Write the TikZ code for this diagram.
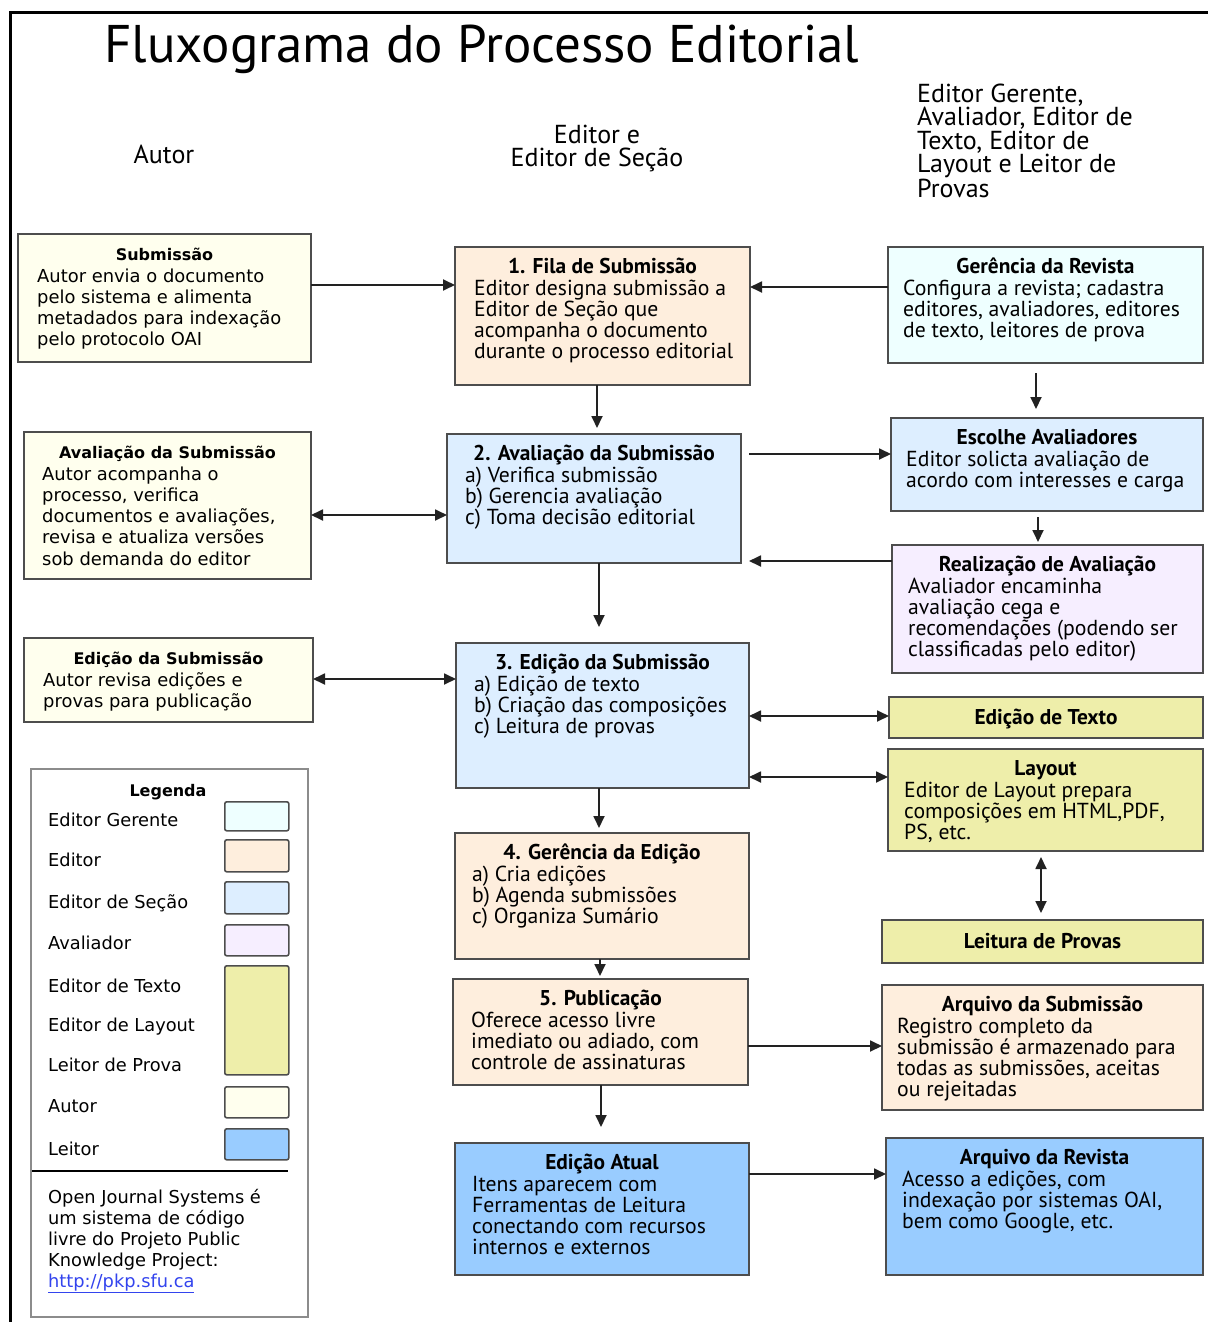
\documentclass[tikz,border=0pt]{standalone}
\usepackage{fontspec}
\usetikzlibrary{arrows.meta}
\newfontfamily\pts{PT Sans}
\newfontfamily\djv{DejaVu Sans}
\definecolor{cAut}{HTML}{FFFFEE}
\definecolor{cEdi}{HTML}{FEEEDD}
\definecolor{cSec}{HTML}{DDEEFF}
\definecolor{cGer}{HTML}{EEFFFF}
\definecolor{cAva}{HTML}{F6EEFF}
\definecolor{cTxt}{HTML}{EEEEAA}
\definecolor{cLei}{HTML}{99CCFF}
\definecolor{edge}{HTML}{4D4D4D}
\definecolor{wire}{HTML}{222222}
\definecolor{linkc}{HTML}{3344EE}

\tikzset{
  box/.style={draw=edge, line width=1.6, anchor=north west, inner sep=0, outer sep=0},
  tP/.style={anchor=north, inner sep=0, font=\pts\bfseries\fontsize{21.4}{21.3}\selectfont},
  bP/.style={anchor=north west, inner sep=0, align=left, font=\pts\fontsize{21.7}{21.3}\selectfont},
  tA/.style={anchor=north, inner sep=0, font=\djv\bfseries\fontsize{16}{21.3}\selectfont},
  bA/.style={anchor=north west, inner sep=0, align=left, font=\djv\fontsize{17.9}{21.3}\selectfont},
  arr/.style={draw=wire, line width=1.8, -{Triangle[length=12pt,width=11pt]}},
  darr/.style={draw=wire, line width=1.8, {Triangle[length=12pt,width=11pt]}-{Triangle[length=12pt,width=11pt]}},
  swatch/.style={draw=edge, line width=1.6, rounded corners=2pt, anchor=north west, inner sep=0, minimum width=64},
  leglabel/.style={anchor=base west, inner sep=0, font=\djv\fontsize{17.8}{21.3}\selectfont},
  head/.style={inner sep=0, font=\pts\fontsize{26}{23.5}\selectfont},
}

% box from top-left to bottom-right corner
\newcommand\bx[6]{\node[box,fill=#2,minimum width={#5-#3},minimum height={#6-#4}] (#1) at (#3,#4) {};}
% title + body in the narrow sans
\newcommand\txP[4]{%
  \node[tP] (#1-t) at ([yshift=-8.5pt]#1.north) {\rule{0pt}{18pt}#3};
  \node[bP] (#1-b) at ([xshift=#2pt,yshift=-29.8pt]#1.north west) {\rule{0pt}{18pt}#4};}
% title + body in the wide sans (author column)
\newcommand\txA[4]{%
  \node[tA] (#1-t) at ([yshift=-8.5pt]#1.north) {\rule{0pt}{18pt}#3};
  \node[bA] (#1-b) at ([xshift=#2pt,yshift=-29.8pt]#1.north west) {\rule{0pt}{18pt}#4};}

\begin{document}
\begin{tikzpicture}[x=1pt, y=-1pt]
\useasboundingbox (0,0) rectangle (1208,1322);
\fill[white] (0,0) rectangle (1208,1322);

% frame
\draw[line width=3] (10,1322) -- (10,13) -- (1208,13);

% headings
\node[anchor=base west, inner sep=0, font=\pts\fontsize{53}{56}\selectfont] (title) at (104,63) {Fluxograma do Processo Editorial};
\node[head, anchor=base] (hAut) at (164,163) {Autor};
\node[head, anchor=north, align=center] (hEd) at (597,124) {\rule{0pt}{19pt}Editor e\\Editor de Seção};
\node[head, anchor=north west, align=left] (hOut) at (917,83) {\rule{0pt}{19pt}Editor Gerente,\\Avaliador, Editor de\\Texto, Editor de\\Layout e Leitor de\\Provas};

% author column
\bx{subm}{cAut}{18}{234}{311}{362}
\txA{subm}{19}{Submissão}{Autor envia o documento\\pelo sistema e alimenta\\metadados para indexação\\pelo protocolo OAI}
\bx{avA}{cAut}{24}{432}{311}{579}
\txA{avA}{18}{Avaliação da Submissão}{Autor acompanha o\\processo, verifica\\documentos e avaliações,\\revisa e atualiza versões\\sob demanda do editor}
\bx{edA}{cAut}{24}{638}{313}{722}
\txA{edA}{19}{Edição da Submissão}{Autor revisa edições e\\provas para publicação}

% editor column
\bx{fila}{cEdi}{455}{247}{750}{385}
\txP{fila}{19}{1. Fila de Submissão}{Editor designa submissão a\\Editor de Seção que\\acompanha o documento\\durante o processo editorial}
\bx{aval}{cSec}{447}{434}{741}{563}
\txP{aval}{18}{2. Avaliação da Submissão}{a) Verifica submissão\\b) Gerencia avaliação\\c) Toma decisão editorial}
\bx{ed3}{cSec}{456}{643}{749}{788}
\txP{ed3}{18}{3. Edição da Submissão}{a) Edição de texto\\b) Criação das composições\\c) Leitura de provas}
\bx{ger4}{cEdi}{455}{833}{749}{959}
\txP{ger4}{17}{4. Gerência da Edição}{a) Cria edições\\b) Agenda submissões\\c) Organiza Sumário}
\bx{pub}{cEdi}{453}{979}{748}{1085}
\txP{pub}{18}{5. Publicação}{Oferece acesso livre\\imediato ou adiado, com\\controle de assinaturas}
\bx{atual}{cLei}{455}{1143}{749}{1275}
\txP{atual}{17}{Edição Atual}{Itens aparecem com\\Ferramentas de Leitura\\conectando com recursos\\internos e externos}

% staff column
\bx{ger}{cGer}{888}{247}{1203}{363}
\txP{ger}{15}{Gerência da Revista}{Configura a revista; cadastra\\editores, avaliadores, editores\\de texto, leitores de prova}
\bx{esc}{cSec}{891}{418}{1203}{511}
\txP{esc}{15}{Escolhe Avaliadores}{Editor solicta avaliação de\\acordo com interesses e carga}
\bx{real}{cAva}{892}{545}{1203}{673}
\txP{real}{16}{Realização de Avaliação}{Avaliador encaminha\\avaliação cega e\\recomendações (podendo ser\\classificadas pelo editor)}
\bx{texto}{cTxt}{889}{697}{1203}{738}
\node[tP, anchor=base] (texto-t) at ([yshift=-7pt]texto.center) {Edição de Texto};
\bx{layout}{cTxt}{888}{749}{1203}{851}
\txP{layout}{16}{Layout}{Editor de Layout prepara\\composições em HTML,PDF,\\PS, etc.}
\bx{leit}{cTxt}{882}{920}{1203}{963}
\node[tP, anchor=base] (leit-t) at ([yshift=-7pt]leit.center) {Leitura de Provas};
\bx{arqS}{cEdi}{882}{985}{1203}{1110}
\txP{arqS}{15}{Arquivo da Submissão}{Registro completo da\\submissão é armazenado para\\todas as submissões, aceitas\\ou rejeitadas}
\bx{arqR}{cLei}{886}{1138}{1203}{1275}
\txP{arqR}{16}{Arquivo da Revista}{Acesso a edições, com\\indexação por sistemas OAI,\\bem como Google, etc.}

% connectors
\draw[arr] (subm.east |- 0,285) -- (fila.west |- 0,285);
\draw[arr] (ger.west |- 0,287) -- (fila.east |- 0,287);
\draw[arr, shorten >=6pt] (fila.south -| 597,0) -- (aval.north -| 597,0);
\draw[arr, shorten <=10pt, shorten >=9pt] (ger.south -| 1036,0) -- (esc.north -| 1036,0);
\draw[arr, shorten <=8pt] (aval.east |- 0,454) -- (esc.west |- 0,454);
\draw[arr, shorten <=6pt, shorten >=3pt] (esc.south -| 1038,0) -- (real.north -| 1038,0);
\draw[arr, shorten >=8pt] (real.west |- 0,561) -- (aval.east |- 0,561);
\draw[darr] (avA.east |- 0,515) -- (aval.west |- 0,515);
\draw[arr, shorten >=16pt] (aval.south -| 599,0) -- (ed3.north -| 599,0);
\draw[darr] (edA.east |- 0,679) -- (ed3.west |- 0,679);
\draw[darr] (ed3.east |- 0,716) -- (texto.west |- 0,716);
\draw[darr] (ed3.east |- 0,777) -- (layout.west |- 0,777);
\draw[darr, shorten <=6pt, shorten >=7pt] (layout.south -| 1041,0) -- (leit.north -| 1041,0);
\draw[arr, shorten >=5pt] (ed3.south -| 599,0) -- (ger4.north -| 599,0);
\draw[arr, shorten >=3pt] (ger4.south -| 600,0) -- (pub.north -| 600,0);
\draw[arr] (pub.east |- 0,1046) -- (arqS.west |- 0,1046);
\draw[arr, shorten >=16pt] (pub.south -| 601,0) -- (atual.north -| 601,0);
\draw[arr] (atual.east |- 0,1174) -- (arqR.west |- 0,1174);

% legend
\node[draw=black!45, line width=1.5, fill=white, anchor=north west, inner sep=0, minimum width=277, minimum height=548] (leg) at (30,768) {};
\node[anchor=base, inner sep=0, font=\djv\bfseries\fontsize{16}{21.3}\selectfont] (legT) at (168,796) {Legenda};
\node[swatch, fill=cGer, minimum height=29] (sw1) at (224,801) {};
\node[swatch, fill=cEdi, minimum height=32] (sw2) at (224,839) {};
\node[swatch, fill=cSec, minimum height=32] (sw3) at (224,881) {};
\node[swatch, fill=cAva, minimum height=31] (sw4) at (224,924) {};
\node[swatch, fill=cTxt, minimum height=109] (sw5) at (224,965) {};
\node[swatch, fill=cAut, minimum height=31] (sw6) at (224,1086) {};
\node[swatch, fill=cLei, minimum height=31] (sw7) at (224,1128) {};
\node[leglabel] (l1) at (48,826) {Editor Gerente};
\node[leglabel] (l2) at (48,866) {Editor};
\node[leglabel] (l3) at (48,908) {Editor de Seção};
\node[leglabel] (l4) at (48,949) {Avaliador};
\node[leglabel] (l5) at (48,992) {Editor de Texto};
\node[leglabel] (l6) at (48,1031) {Editor de Layout};
\node[leglabel] (l7) at (48,1071) {Leitor de Prova};
\node[leglabel] (l8) at (48,1112) {Autor};
\node[leglabel] (l9) at (48,1155) {Leitor};
\draw[line width=2.5] (32,1171) -- (288,1171);
\node[bA, font=\djv\fontsize{17.8}{21}\selectfont] (ojs) at (48,1185) {\rule{0pt}{18pt}Open Journal Systems é\\um sistema de código\\livre do Projeto Public\\Knowledge Project:\\\textcolor{linkc}{\underline{http://pkp.sfu.ca}}};
\end{tikzpicture}
\end{document}
